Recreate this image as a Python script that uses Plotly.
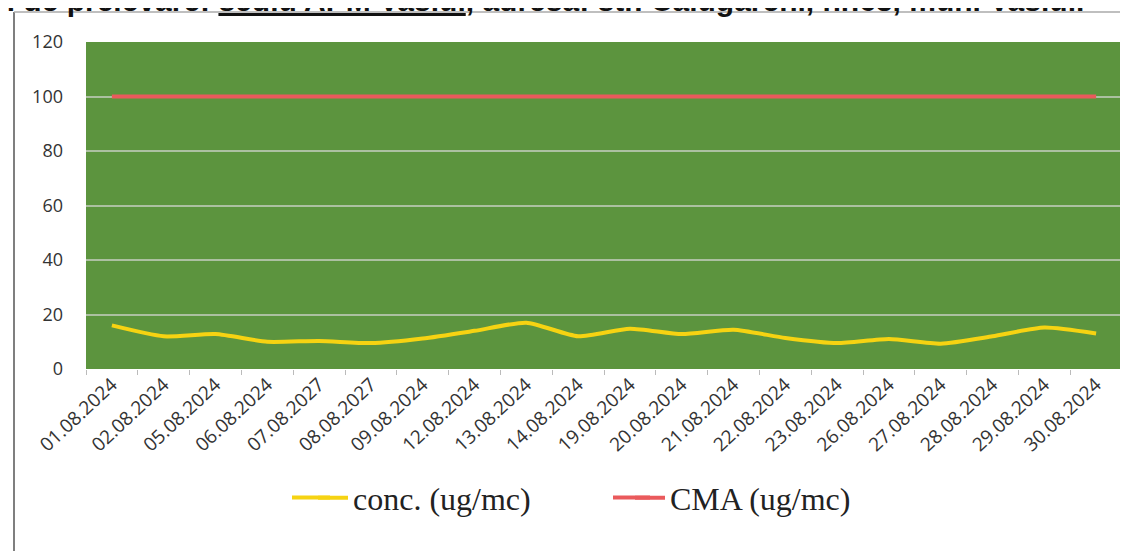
import plotly.graph_objects as go

dates = ["01.08.2024", "02.08.2024", "05.08.2024", "06.08.2024", "07.08.2027",
         "08.08.2027", "09.08.2024", "12.08.2024", "13.08.2024", "14.08.2024",
         "19.08.2024", "20.08.2024", "21.08.2024", "22.08.2024", "23.08.2024",
         "26.08.2024", "27.08.2024", "28.08.2024", "29.08.2024", "30.08.2024"]
conc = [16, 12, 12.8, 10, 10.3, 9.5, 11.2, 14, 17, 12,
        14.8, 12.8, 14.4, 11.4, 9.5, 11, 9.3, 12, 15.2, 13]
cma = [100] * len(dates)
y_ticks = [0, 20, 40, 60, 80, 100, 120]

YELLOW = "#f6d312"
RED = "#ea5a5c"

OFF = 8  # page body margin offset
W, H = 1128, 551
# plot area in screen pixels: x 86..1122, y 42..369
L, T = 86 - OFF, 42 - OFF
R = W - (1122 - OFF)
B = H - (369 - OFF)
pw, ph = W - L - R, H - T - B

def px(x):
    return (x - OFF - L) / pw

def py(y):
    return (H - B - (y - OFF)) / ph

fig = go.Figure()
fig.add_trace(go.Scatter(x=dates, y=conc, mode="lines", name="conc. (ug/mc)",
                         line=dict(color=YELLOW, width=4, shape="spline", smoothing=0.6)))
fig.add_trace(go.Scatter(x=dates, y=cma, mode="lines", name="CMA (ug/mc)",
                         line=dict(color=RED, width=4)))

LEG_Y = 498
SAMPLE_Y = 497.5
fig.update_layout(
    width=W, height=H,
    margin=dict(l=L, r=R, t=T, b=B, autoexpand=False),
    paper_bgcolor="white",
    plot_bgcolor="#5c943e",
    showlegend=True,
    legend=dict(orientation="h", x=px(313), xanchor="left", y=py(LEG_Y), yanchor="middle",
                font=dict(family="Liberation Serif", size=32, color="#222222"),
                itemwidth=30, entrywidth=272, entrywidthmode="pixels",
                bgcolor="rgba(0,0,0,0)"),
    xaxis=dict(type="category", tickangle=-43, tickson="boundaries", ticks="outside",
               ticklen=5, tickcolor="#bbbbbb", showgrid=False, showline=False,
               automargin=False,
               tickfont=dict(family="Open Sans", size=19, color="#333333"),
               range=[-0.5, len(dates) - 0.5]),
    yaxis=dict(range=[0, 120], tickvals=y_ticks, showgrid=True,
               gridcolor="rgba(215,215,215,0.65)", gridwidth=1.5, zeroline=False,
               ticks="", automargin=False,
               tickfont=dict(family="Open Sans", size=18, color="#333333"),
               ticklabelstandoff=22),
    shapes=[
        dict(type="line", xref="paper", yref="paper", x0=px(14), x1=px(14), y0=py(12), y1=py(570),
             line=dict(color="#555555", width=1.5)),
        dict(type="line", xref="paper", yref="paper", x0=px(14), x1=px(1140), y0=py(12), y1=py(12),
             line=dict(color="#aaaaaa", width=1.5)),
        # longer legend sample strokes, as in the original legend
        dict(type="line", xref="paper", yref="paper", x0=px(292), x1=px(330), y0=py(SAMPLE_Y), y1=py(SAMPLE_Y),
             line=dict(color=YELLOW, width=4)),
        dict(type="line", xref="paper", yref="paper", x0=px(613), x1=px(650), y0=py(SAMPLE_Y), y1=py(SAMPLE_Y),
             line=dict(color=RED, width=4)),
    ],
    annotations=[
        dict(text="Punctul de prelevare: <u>sediu APM Vaslui</u>, adresa: str. Calugareni, nr.63, mun. Vaslui.",
             xref="paper", yref="paper", x=px(1086), y=py(19), xanchor="right", yanchor="bottom",
             showarrow=False,
             font=dict(family="Liberation Sans Narrow, Liberation Sans", size=30, color="#111111",
                       weight="bold")),
    ],
)

fig.write_html("out.html")
